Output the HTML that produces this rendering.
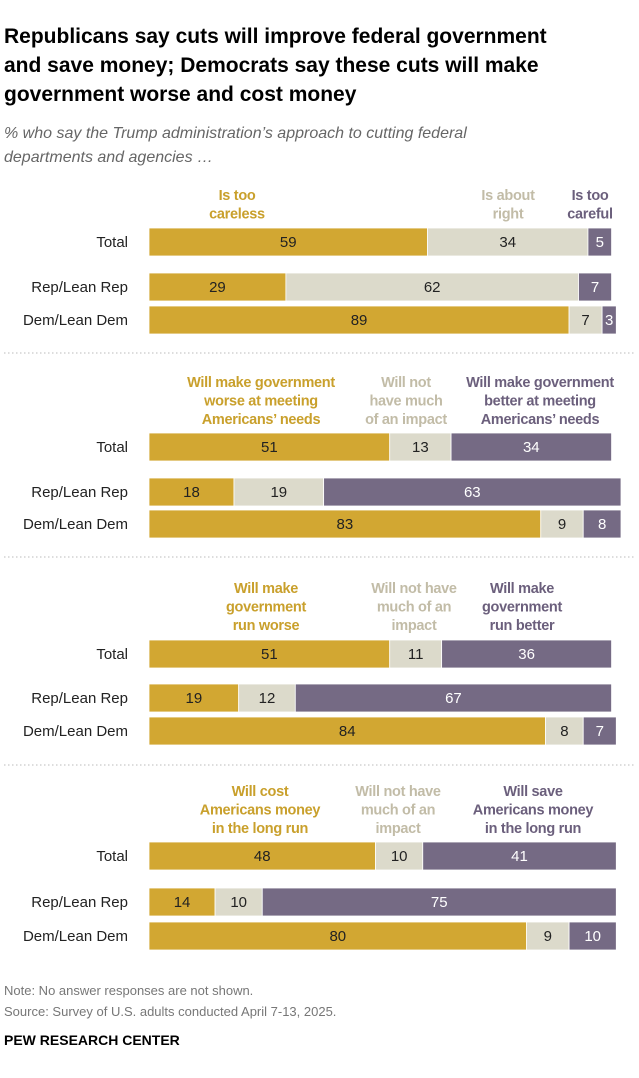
<!DOCTYPE html>
<html><head><meta charset="utf-8"><style>
body{margin:0;background:#fff;}
svg{display:block;font-family:"Liberation Sans",sans-serif;}
</style></head><body>
<svg id="chart" width="639" height="1078">
<g font-weight="bold" font-size="21" fill="#000">
<text x="4" y="43">Republicans say cuts will improve federal government</text>
<text x="4" y="72">and save money; Democrats say these cuts will make</text>
<text x="4" y="101">government worse and cost money</text>
</g>
<g font-style="italic" font-size="16" fill="#666">
<text x="4" y="138">% who say the Trump administration’s approach to cutting federal</text>
<text x="4" y="162">departments and agencies …</text>
</g>
<g id="panels"></g>
<g font-size="13" fill="#777">
<text x="4" y="995">Note: No answer responses are not shown.</text>
<text x="4" y="1016">Source: Survey of U.S. adults conducted April 7-13, 2025.</text>
<text x="4" y="1045" font-weight="bold" fill="#000" font-size="14">PEW RESEARCH CENTER</text>
</g>
</svg>
<script>
const groups = ["Total","Rep/Lean Rep","Dem/Lean Dem"];
const p1Values = [[59,34,5],[29,62,7],[89,7,3]];
const p2Values = [[51,13,34],[18,19,63],[83,9,8]];
const p3Values = [[51,11,36],[19,12,67],[84,8,7]];
const p4Values = [[48,10,41],[14,10,75],[80,9,10]];
const p1Headers = [["Is too","careless"],["Is about","right"],["Is too","careful"]];
const p2Headers = [["Will make government","worse at meeting","Americans’ needs"],["Will not","have much","of an impact"],["Will make government","better at meeting","Americans’ needs"]];
const p3Headers = [["Will make","government","run worse"],["Will not have","much of an","impact"],["Will make","government","run better"]];
const p4Headers = [["Will cost","Americans money","in the long run"],["Will not have","much of an","impact"],["Will save","Americans money","in the long run"]];

const x0 = 149, unit = 4.72;
const xs = v => v * unit;
const colors = ["#d2a732","#dcdacb","#756a84"];
const headColors = ["#c9a02c","#c2bca7","#6b5f7c"];
const NS = "http://www.w3.org/2000/svg";
const root = document.getElementById("panels");

const panels = [
  {vals:p1Values, heads:p1Headers, headTop:200, headX:[237,508,590], rows:[242,287,320], sep:353, bh:28},
  {vals:p2Values, heads:p2Headers, headTop:387, headX:[261,406,540], rows:[447,492,524], sep:557, bh:28},
  {vals:p3Values, heads:p3Headers, headTop:593, headX:[266,414,522], rows:[654,698,731], sep:765, bh:28},
  {vals:p4Values, heads:p4Headers, headTop:796, headX:[260,398,533], rows:[856,902,936], sep:null, bh:28}
];

function mk(tag, attrs, parent){
  const e = document.createElementNS(NS, tag);
  for (const k in attrs) e.setAttribute(k, attrs[k]);
  parent.appendChild(e);
  return e;
}

panels.forEach((p, pi) => {
  const g = mk("g", {}, root);
  
  
  p.heads.forEach((lines, hi) => {
    const t = mk("text", {"text-anchor":"middle","font-weight":"bold","font-size":"14.5","fill":headColors[hi],"letter-spacing":"-0.3"}, g);
    
    
    lines.forEach((ln, li) => {
      const ts = mk("tspan", {x:p.headX[hi], y:p.headTop + li*18.5}, t);
      ts.textContent = ln;
    });
  });
  p.vals.forEach((row, ri) => {
    const cy = p.rows[ri];
    const lab = mk("text", {x:128, y:cy+5, "text-anchor":"end", "font-size":"15", fill:"#222"}, g);
    
    
    lab.textContent = groups[ri];
    let x = x0;
    row.forEach((v, si) => {
      const w = xs(v);
      const r = mk("rect", {x:x, y:cy - p.bh/2, width:w, height:p.bh, fill:colors[si], stroke:"#fff", "stroke-width":"0.8"}, g);
      
      
      const t = mk("text", {x:x + w/2, y:cy+5, "text-anchor":"middle", "font-size":"15", fill: si==2 ? "#fff" : "#222"}, g);
      
      
      t.textContent = v;
      x += w;
    });
  });
  if (p.sep) {
    const l = mk("line", {x1:4, x2:635, y1:p.sep, y2:p.sep, stroke:"#bbb", "stroke-dasharray":"1.5,2.5", "stroke-width":"1"}, g);
    
    
  }
});
</script>
</body></html>
